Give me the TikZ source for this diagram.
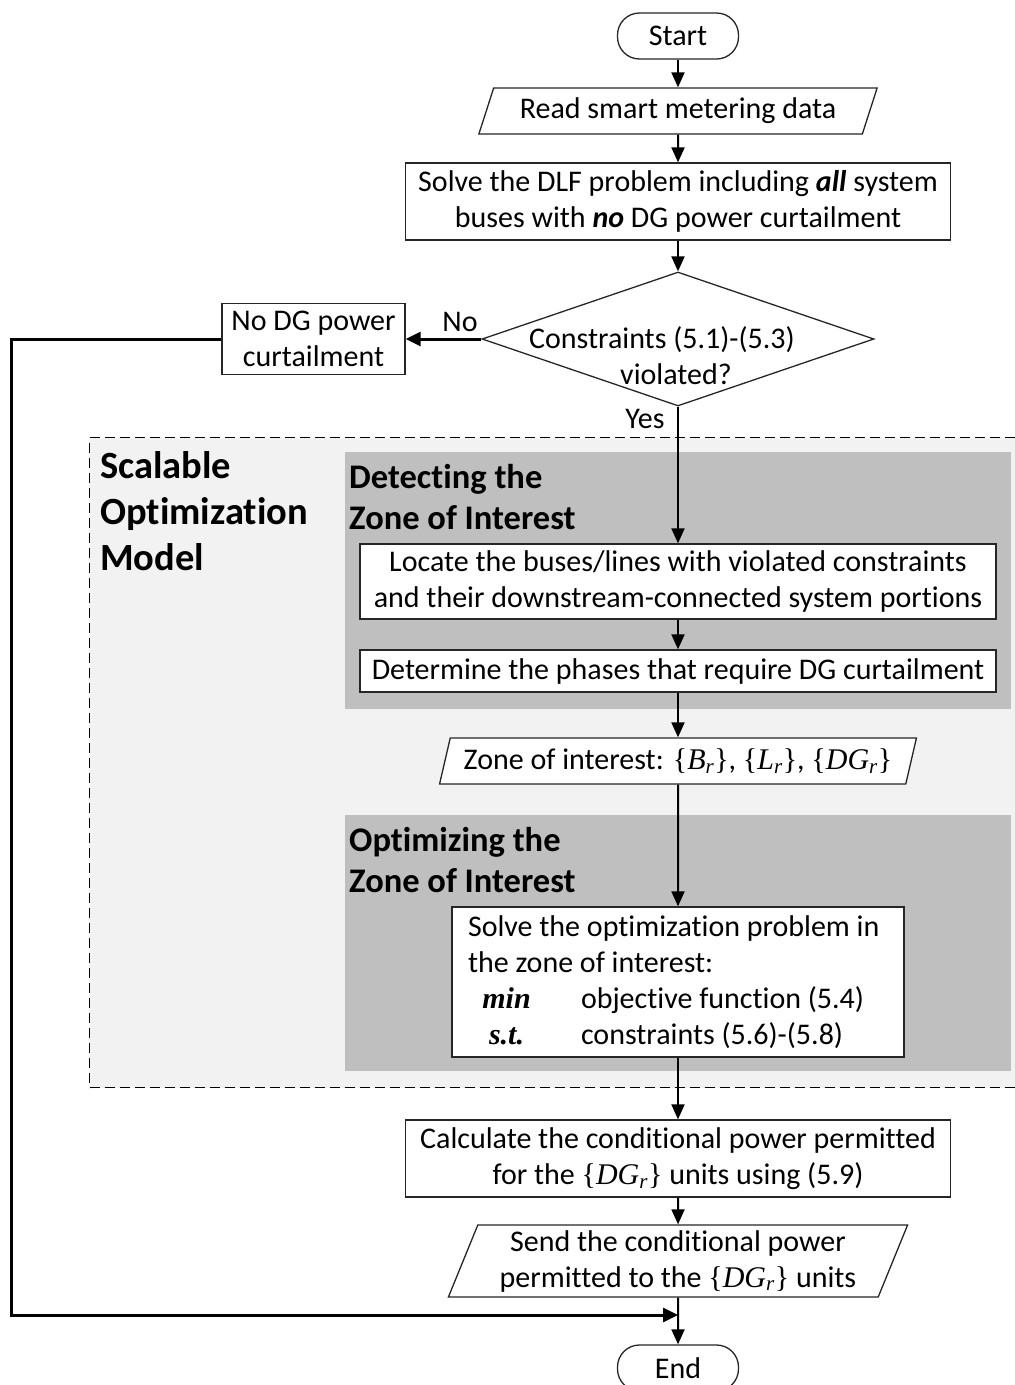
\documentclass[tikz,border=0pt]{standalone}
\usepackage{fontspec}
\setmainfont{Carlito}[Ligatures=NoCommon]
\newfontfamily\tnr{Liberation Serif}
\usetikzlibrary{arrows.meta,shapes.geometric}
\definecolor{zonegray}{HTML}{BFBFBF}
\definecolor{modelgray}{HTML}{F2F2F2}
\definecolor{edge}{HTML}{262626}
\newcommand{\setv}[2]{{\tnr\{\textit{#1}\textsubscript{\textit{#2}}\}}}
\begin{document}
\begin{tikzpicture}[x=1pt,y=-1pt,
  every node/.style={font=\fontsize{30}{36}\selectfont, text=black},
  box/.style={draw=edge, line width=1.3pt, fill=white, align=center, inner sep=0pt},
  io/.style={draw=edge, line width=1.3pt, fill=white, trapezium, trapezium stretches=true, align=center, inner sep=0pt},
  term/.style={draw=edge, line width=1.3pt, fill=white, rounded corners=22pt, minimum width=121pt, minimum height=46pt, inner sep=0pt},
  zone/.style={fill=zonegray, draw=none, inner sep=0pt, anchor=north west},
  ztitle/.style={font=\bfseries\fontsize{34.5}{41}\selectfont, align=flush left, inner sep=0pt, anchor=north west},
  arr/.style={-{Triangle[length=15pt,width=13pt]}, line width=2pt},
  fb/.style={-{Triangle[length=15pt,width=14pt]}, line width=3pt},
  lbl/.style={inner sep=0pt}]
\useasboundingbox (0,0) rectangle (1015,1385);

% scalable optimization model region
\node[fill=modelgray, draw, line width=1.3pt, dash pattern=on 10pt off 5pt, inner sep=0pt, anchor=north west,
  minimum width=940pt, minimum height=650pt] (model) at (89,437) {};
\node[font=\bfseries\fontsize{38.5}{46}\selectfont, align=flush left, inner sep=0pt, anchor=north west] (modeltitle) at (100,451) {Scalable\\Optimization\\Model};

\node[zone, minimum width=666pt, minimum height=257pt] (detect) at (345,452) {};
\node[ztitle] (detecttitle) at (349,464) {Detecting the\\Zone of Interest};
\node[zone, minimum width=666pt, minimum height=256pt] (optzone) at (345,815) {};
\node[ztitle] (opttitle) at (349,827) {Optimizing the\\Zone of Interest};

% nodes
\node[term] (start) at (678,36) {Start};
\node[io, trapezium left angle=64, trapezium right angle=116, minimum width=400pt, minimum height=46pt] (read) at (678,111) {Read smart metering data};
\node[box, minimum width=545pt, minimum height=77pt] (dlf) at (678,201.5) {Solve the DLF problem including \textbf{\textit{all}} system\\buses with \textbf{\textit{no}} DG power curtailment};
\node[diamond, draw=edge, line width=1.3pt, fill=white, shape aspect=2.9, minimum width=392pt, minimum height=134pt, inner sep=0pt] (dec) at (678,339) {};
\node[align=center, inner sep=0pt] (dectext) at (676,356) {Constraints (5.1)-(5.3)\hspace*{28pt}\\violated?};
\node[box, minimum width=183pt, minimum height=71pt] (nodg) at (313.5,339) {No DG power\\curtailment};
\node[lbl] (nolbl) at (460,322) {No};
\node[lbl] (yeslbl) at (645,419) {Yes};

\node[box, minimum width=636pt, minimum height=75pt] (locate) at (678,581.5) {Locate the buses/lines with violated constraints\\and their downstream-connected system portions};
\node[box, minimum width=636pt, minimum height=42pt] (determine) at (678,671) {Determine the phases that require DG curtailment};
\node[io, trapezium left angle=68, trapezium right angle=112, minimum width=477pt, minimum height=46pt] (zoneio) at (678,761) {Zone of interest: \setv{B}{r}, \setv{L}{r}, \setv{DG}{r}};
\node[box, minimum width=452pt, minimum height=150pt, text width=420pt, align=flush left] (opt) at (678,982) {Solve the optimization problem in\\the zone of interest:\\\makebox[77pt][c]{\tnr\bfseries\itshape min}\hspace{36pt}objective function (5.4)\\\makebox[77pt][c]{\tnr\bfseries\itshape s.t.}\hspace{36pt}constraints (5.6)-(5.8)};
\node[box, minimum width=545pt, minimum height=77pt] (calc) at (678,1158.5) {Calculate the conditional power permitted\\for the \setv{DG}{r} units using (5.9)};
\node[io, trapezium left angle=67, trapezium right angle=113, minimum width=460pt, minimum height=72pt] (send) at (678,1261) {Send the conditional power\\permitted to the \setv{DG}{r} units};
\node[term] (end) at (678,1368) {End};
\coordinate (join) at (678,1315);

% connectors
\draw[arr] (start) -- (read);
\draw[arr] (read) -- (dlf);
\draw[arr] (dlf) -- (dec);
\draw[fb] (dec.west) -- (nodg.east);
\draw[arr] (dec.south) -- (locate.north);
\draw[arr] (locate) -- (determine);
\draw[arr] (determine) -- (zoneio);
\draw[arr] (zoneio) -- (opt);
\draw[arr] (opt) -- (calc);
\draw[arr] (calc) -- (send);
\draw[arr] (send) -- (end);
\draw[fb] (nodg.west) -- ++(-210,0) |- (join);
\end{tikzpicture}
\end{document}
